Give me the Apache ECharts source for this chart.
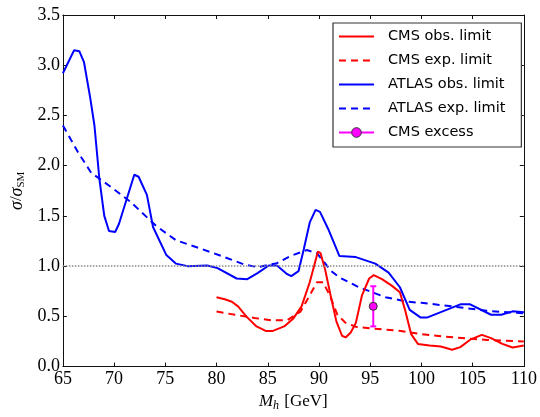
<!DOCTYPE html>
<html>
<head>
<meta charset="utf-8">
<script src="https://cdn.jsdelivr.net/npm/echarts@6/dist/echarts.min.js"></script>
<style>
  html, body { margin: 0; padding: 0; background: #fff; }
  #chart { width: 540px; height: 417px; }
</style>
</head>
<body>
<div id="chart"></div>
<script>
// limits on sigma / sigma_SM vs M_h
var atlasObs = [
  [65.0, 2.92], [66.1, 3.15], [66.6, 3.14], [67.06, 3.03], [67.66, 2.68], [68.08, 2.40],
  [68.56, 1.87], [69.04, 1.50], [69.5, 1.35], [70.1, 1.34], [70.47, 1.42], [71.97, 1.91],
  [72.39, 1.89], [73.2, 1.71], [73.8, 1.39], [75.1, 1.11], [76.05, 1.025], [77.17, 1.0],
  [79.1, 1.006], [80.1, 0.98], [81.96, 0.877], [83.0, 0.87], [84.0, 0.93], [85.1, 1.006],
  [85.9, 1.006], [86.9, 0.92], [87.3, 0.90], [88.0, 0.95], [88.5, 1.16], [89.1, 1.435],
  [89.67, 1.56], [90.1, 1.54], [90.9, 1.37], [92.0, 1.10], [93.6, 1.09], [95.5, 1.025],
  [96.8, 0.935], [97.9, 0.79], [98.86, 0.565], [99.9, 0.49], [100.6, 0.49], [103.8, 0.62],
  [104.76, 0.62], [106.8, 0.516], [107.8, 0.516], [108.9, 0.55], [110.0, 0.54]
];
var atlasExp = [
  [65.0, 2.40], [66.5, 2.13], [67.76, 1.93], [69.67, 1.79], [71.6, 1.64], [74.1, 1.40],
  [76.05, 1.257], [78.3, 1.18], [80.5, 1.10], [82.75, 1.015], [84.0, 0.99], [85.9, 1.03],
  [87.2, 1.10], [88.8, 1.16], [89.8, 1.13], [91.2, 0.95], [92.0, 0.887], [93.9, 0.79],
  [96.5, 0.69], [98.7, 0.645], [100.0, 0.635], [103.2, 0.597], [106.4, 0.555], [110.0, 0.53]
];
var cmsObs = [
  [80.0, 0.69], [80.8, 0.67], [81.5, 0.645], [82.1, 0.60], [82.9, 0.50], [83.9, 0.40],
  [84.8, 0.355], [85.5, 0.355], [86.6, 0.40], [87.5, 0.48], [88.3, 0.60], [89.1, 0.84],
  [89.9, 1.145], [90.15, 1.13], [90.6, 0.967], [91.2, 0.677], [91.7, 0.45], [92.25, 0.307],
  [92.6, 0.29], [93.1, 0.34], [93.6, 0.435], [94.2, 0.71], [94.9, 0.877], [95.35, 0.91],
  [96.15, 0.87], [97.1, 0.806], [97.9, 0.74], [98.4, 0.565], [99.0, 0.323], [99.66, 0.226],
  [100.8, 0.21], [101.9, 0.20], [103.0, 0.168], [103.8, 0.194], [104.76, 0.268], [105.9, 0.316],
  [106.8, 0.284], [107.9, 0.226], [108.9, 0.19], [110.0, 0.21]
];
var cmsExp = [
  [80.0, 0.548], [81.8, 0.516], [83.7, 0.484], [85.3, 0.461], [86.9, 0.461], [88.2, 0.548],
  [89.1, 0.71], [89.8, 0.84], [90.4, 0.84], [91.05, 0.71], [91.8, 0.516], [92.6, 0.435],
  [93.6, 0.397], [95.5, 0.377], [98.0, 0.355], [100.0, 0.323], [103.2, 0.29], [106.4, 0.265],
  [110.0, 0.25]
];
// [mass, value, error]
var cmsExcess = [[95.3, 0.6, 0.2]];
var smLine = 1.0;
var legendNames = ["CMS obs. limit", "CMS exp. limit", "ATLAS obs. limit", "ATLAS exp. limit", "CMS excess"];

var serif = "Liberation Serif";
var axisColor = "#111";

var chart = echarts.init(document.getElementById("chart"));

function tickAxis(pos, extra) {
  var a = {
    position: pos,
    axisLine: { show: true, onZero: false, lineStyle: { color: axisColor, width: 1 } },
    axisTick: { show: true, inside: true, length: 4, lineStyle: { color: axisColor } },
    splitLine: { show: false },
    axisLabel: { show: false }
  };
  return Object.assign(a, extra);
}

// plain lines in the legend: hide the marker ECharts puts on them
var legendData = legendNames.map(function (n) {
  if (n == "CMS excess") {
    return { name: n, itemStyle: { color: "#ff00ff", borderColor: "#333", borderWidth: 1 } };
  }
  return { name: n, itemStyle: { color: "rgba(0,0,0,0)", borderWidth: 0, opacity: 0 } };
});

var option = {
  animation: false,
  grid: { left: 54, right: 15, top: 15, bottom: 40 },
  xAxis: [
    tickAxis("bottom", {
      type: "value", min: 65, max: 110, interval: 5,
      axisLabel: { show: true, margin: 4, color: "#000", fontFamily: serif, fontSize: 18 },
      name: "{i|M}{sub|h} [GeV]",
      nameLocation: "middle",
      nameGap: 22,
      nameTextStyle: {
        color: "#000", fontFamily: serif, fontSize: 17,
        rich: {
          i: { fontFamily: serif, fontStyle: "italic", fontSize: 17, color: "#000" },
          sub: { fontFamily: serif, fontStyle: "italic", fontSize: 12, color: "#000", padding: [8, 1, 0, 0] }
        }
      }
    }),
    tickAxis("top", { type: "value", min: 65, max: 110, interval: 5 })
  ],
  yAxis: [
    tickAxis("left", {
      type: "value", min: 0, max: 3.5, interval: 0.5,
      axisLabel: {
        show: true, margin: 3, color: "#000", fontFamily: serif, fontSize: 18,
        formatter: function (v) { return v.toFixed(1); }
      },
      name: "{i|σ}/{i|σ}{sub|SM}",
      nameLocation: "middle",
      nameGap: 31,
      nameRotate: 90,
      nameTextStyle: {
        color: "#000", fontFamily: serif, fontSize: 17,
        rich: {
          i: { fontFamily: serif, fontStyle: "italic", fontSize: 18, color: "#000" },
          sub: { fontFamily: serif, fontSize: 11, color: "#000", padding: [8, 0, 0, 0] }
        }
      }
    }),
    tickAxis("right", { type: "value", min: 0, max: 3.5, interval: 0.5 })
  ],
  legend: {
    orient: "vertical",
    left: 333,
    top: 23,
    padding: [6, 16, 7, 5],
    itemWidth: 35,
    itemHeight: 12,
    itemGap: 9,
    backgroundColor: "#fff",
    borderColor: "#333",
    borderWidth: 1.2,
    borderRadius: 0,
    textStyle: { fontFamily: "DejaVu Sans", fontSize: 14.5, color: "#000", padding: [0, 0, 0, 9] },
    data: legendData
  },
  series: [
    {
      name: "CMS obs. limit", type: "line", data: cmsObs, symbol: "none", z: 4,
      lineStyle: { color: "#ff0000", width: 2 }, itemStyle: { color: "#ff0000" },
      markLine: {
        silent: true, symbol: "none", label: { show: false },
        lineStyle: { color: "#888", type: "dotted", width: 1.5 },
        data: [{ yAxis: smLine }]
      }
    },
    {
      name: "CMS exp. limit", type: "line", data: cmsExp, symbol: "none", z: 4,
      lineStyle: { color: "#ff0000", width: 2, type: [7, 5] }, itemStyle: { color: "#ff0000" }
    },
    {
      name: "ATLAS obs. limit", type: "line", data: atlasObs, symbol: "none", z: 3,
      lineStyle: { color: "#0000ff", width: 2 }, itemStyle: { color: "#0000ff" }
    },
    {
      name: "ATLAS exp. limit", type: "line", data: atlasExp, symbol: "none", z: 3,
      lineStyle: { color: "#0000ff", width: 2, type: [7, 5] }, itemStyle: { color: "#0000ff" }
    },
    {
      name: "excess error", type: "custom", z: 5,
      data: cmsExcess,
      renderItem: function (params, api) {
        var x = api.value(0), y = api.value(1), e = api.value(2);
        var top = api.coord([x, y + e]);
        var bot = api.coord([x, y - e]);
        var cap = 3;
        var st = { stroke: "#ff00ff", lineWidth: 2 };
        return {
          type: "group",
          children: [
            { type: "line", shape: { x1: top[0], y1: top[1], x2: bot[0], y2: bot[1] }, style: st },
            { type: "line", shape: { x1: top[0] - cap, y1: top[1], x2: top[0] + cap, y2: top[1] }, style: st },
            { type: "line", shape: { x1: bot[0] - cap, y1: bot[1], x2: bot[0] + cap, y2: bot[1] }, style: st }
          ]
        };
      }
    },
    {
      name: "CMS excess", type: "line", z: 6,
      data: cmsExcess.map(function (d) { return [d[0], d[1]]; }),
      symbol: "circle", symbolSize: 8,
      lineStyle: { color: "#ff00ff", width: 2 },
      itemStyle: { color: "#ff00ff", borderColor: "#333", borderWidth: 1 }
    }
  ]
};

chart.setOption(option);
</script>
</body>
</html>
